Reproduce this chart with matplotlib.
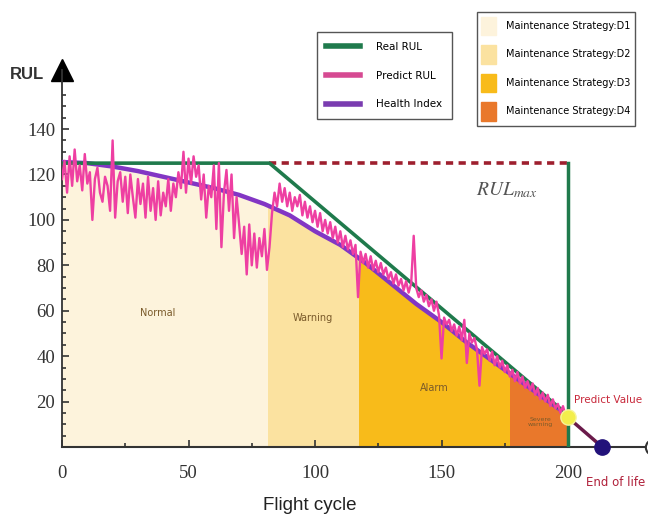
import numpy as np
import matplotlib
matplotlib.use('Agg')
import matplotlib.pyplot as plt
from matplotlib.patches import Rectangle, Patch
from matplotlib.lines import Line2D

plt.rcParams['mathtext.fontset'] = 'stix'

# real RUL (piecewise linear)
real_cycle = [0, 82, 200]
real_rul = [125, 125, 14]
rul_max = 125
eol_predict = 200

# predicted RUL, one value per flight cycle 0..200
pred_rul = [118, 126, 112, 128, 115, 131, 117, 124, 113, 129, 116, 121,
            100, 118, 123, 112, 108, 119, 115, 104, 135, 101, 117, 121,
            108, 119, 103, 120, 110, 101, 118, 107, 116, 101, 119, 104,
            114, 100, 117, 102, 112, 106, 118, 104, 116, 110, 121, 114,
            130, 112, 127, 116, 128, 119, 124, 109, 120, 101, 115, 110,
            124, 96, 125, 88, 112, 122, 104, 120, 92, 110, 98, 85,
            97, 76, 98, 80, 94, 79, 92, 84, 96, 78, 88, 103,
            112, 106, 116, 108, 114, 106, 112, 104, 110, 106, 111, 102,
            108, 101, 106, 99, 104, 97, 103, 95, 100, 94, 99, 92,
            97, 90, 95, 88, 93, 87, 91, 85, 89, 66, 86, 81,
            85, 79, 84, 78, 82, 77, 81, 76, 79, 74, 77, 72,
            76, 71, 74, 69, 73, 68, 72, 93, 70, 66, 69, 64,
            67, 62, 65, 60, 64, 58, 39, 57, 54, 56, 51, 54,
            49, 53, 47, 56, 37, 50, 46, 48, 43, 27, 44, 41,
            43, 38, 42, 36, 40, 35, 38, 33, 36, 31, 34, 29,
            33, 28, 31, 26, 29, 25, 28, 23, 26, 21, 24, 20,
            23, 18, 21, 17, 19, 15, 18, 14, 13]
pred_cycle = np.arange(len(pred_rul))

# health index
hi_cycle = [0, 10, 20, 30, 40, 50, 60, 70, 80, 90, 100, 110, 120,
            130, 140, 150, 160, 170, 180, 190, 200]
hi_value = [125.5, 125, 123.5, 121.5, 119, 116.5, 114, 111, 107, 102, 95,
            89, 81, 72, 63, 55, 46, 38, 30, 22, 14]
end_cycle = 213.5

# maintenance stages
stage_bounds = [0, 81.5, 117.5, 177, 200]
stage_names = ['Normal', 'Warning', 'Alarm', 'Severe\nwarning']
stage_colors = ['#fdf3dc', '#fbe2a0', '#f8bb1a', '#e9782b']
stage_label_pos = [(38, 59), (99, 57), (147, 26), (189, 11)]
strategy_labels = ['Maintenance Strategy:D1', 'Maintenance Strategy:D2',
                   'Maintenance Strategy:D3', 'Maintenance Strategy:D4']

fig = plt.figure(figsize=(6.48, 5.23), dpi=100)
ax = fig.add_axes([0.0957, 0.1453, 0.9043, 0.7208])

# stage fills under the health index
for i in range(4):
    poly = ax.fill_between(hi_cycle, hi_value, 0, color=stage_colors[i], lw=0, zorder=1)
    rect = Rectangle((stage_bounds[i], 0), stage_bounds[i + 1] - stage_bounds[i], 200,
                     transform=ax.transData)
    poly.set_clip_path(rect)
    fs = 7 if i < 3 else 4.5
    ax.text(stage_label_pos[i][0], stage_label_pos[i][1], stage_names[i], fontsize=fs,
            ha='center', va='center', color='#7a5a2a', zorder=6, linespacing=1.0)

# RUL max box
ax.plot([real_cycle[1], eol_predict], [rul_max, rul_max], color='#9e1f2e', lw=2.6,
        dashes=(2.0, 1.5), zorder=3)
ax.plot([eol_predict, eol_predict], [0, rul_max], color='#1f7a4c', lw=2.5, zorder=3)
ax.text(176, 113, r'$RUL_{max}$', fontsize=14, color='#555555', ha='center', va='center')

ax.plot(hi_cycle, hi_value, color='#8236c4', lw=3.2, zorder=3)
ax.plot(real_cycle, real_rul, color='#1f7a4c', lw=2.6, zorder=4)
ax.plot(pred_cycle, pred_rul, color='#ee3fa2', lw=1.7, zorder=5)

# end of life segment
ax.plot([eol_predict, end_cycle], [pred_rul[-1], 0], color='#6a1a4a', lw=2.5, zorder=6)
ax.plot(eol_predict, pred_rul[-1], 'o', ms=11, color='#f3ee4c', mec='#f7f49a', zorder=7)
ax.plot(end_cycle, 0, 'o', ms=11, color='#22127a', zorder=7, clip_on=False)
ax.plot(233.5, 0, 'o', ms=11, mfc='white', mec='#333333', mew=1.5, zorder=7, clip_on=False)
ax.text(202.3, 20.5, 'Predict Value', fontsize=7.5, color='#c8283a', va='center', ha='left')
ax.text(207, -15.5, 'End of life', fontsize=8.5, color='#b0203a', va='center', ha='left')

ax.set_xlim(0, 231.6)
ax.set_ylim(0, 166)
for s in ['top', 'right']:
    ax.spines[s].set_visible(False)
ax.spines['left'].set_color('#333333')
ax.spines['bottom'].set_color('#333333')
ax.spines['left'].set_linewidth(1.3)
ax.spines['bottom'].set_linewidth(1.5)
ax.plot(0, 1, marker='^', ms=16, color='black', transform=ax.transAxes, clip_on=False)

ax.set_xticks([0, 50, 100, 150, 200])
ax.set_xticks([25, 75, 125, 175], minor=True)
ax.set_yticks([20, 40, 60, 80, 100, 120, 140])
ax.set_yticks(np.arange(5, 160, 5), minor=True)
ax.tick_params(which='both', direction='in', color='#333333', width=1.2)
ax.tick_params(which='major', length=5, labelsize=13.5, labelcolor='#333333')
ax.tick_params(axis='x', which='major', pad=13)
ax.tick_params(axis='y', which='major', pad=5)
ax.tick_params(which='minor', length=3)
for lab in ax.get_xticklabels() + ax.get_yticklabels():
    lab.set_family('Liberation Serif')

fig.text(0.015, 0.857, 'RUL', fontsize=12, fontweight='bold', color='#333333',
         family='Liberation Sans', va='center')
fig.text(0.478, 0.034, 'Flight cycle', fontsize=13.5, color='#222222',
         family='Liberation Sans', ha='center', va='center')

# legends
line_handles = [Line2D([], [], color='#1f7a4c', lw=4),
                Line2D([], [], color='#d64a92', lw=4),
                Line2D([], [], color='#7a3cb0', lw=4)]
leg1 = fig.legend(line_handles, ['Real RUL', 'Predict RUL', 'Health Index'],
                  loc='upper left', bbox_to_anchor=(0.481, 0.948), fontsize=7.5,
                  handlelength=3.2, labelspacing=1.8, borderpad=0.9, handletextpad=1.6,
                  fancybox=False, edgecolor='#555555', framealpha=1)
leg2 = fig.legend([Patch(color=c) for c in stage_colors], strategy_labels,
                  loc='upper left', bbox_to_anchor=(0.728, 0.987), fontsize=7,
                  handlelength=1.5, handleheight=2.6, labelspacing=1.0, borderpad=0.5,
                  handletextpad=1.0, fancybox=False, edgecolor='#555555', framealpha=1)

fig.savefig('out.png', dpi=100)
